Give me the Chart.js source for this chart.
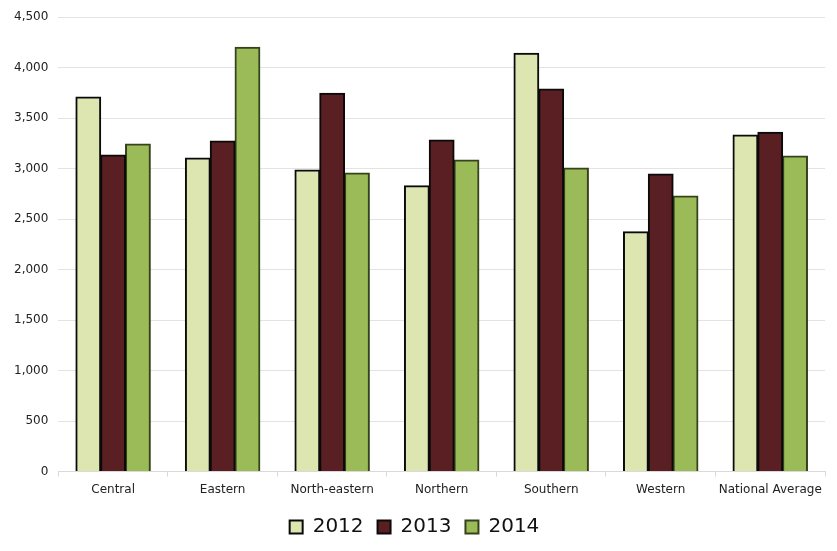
<!DOCTYPE html>
<html>
<head>
<meta charset="utf-8">
<script src="https://cdn.jsdelivr.net/npm/chart.js@4"></script>
<style>
  html, body { margin: 0; padding: 0; background: #fff; }
  #wrap { width: 837px; height: 551px; }
</style>
</head>
<body>
<div id="wrap"><canvas id="chart"></canvas></div>
<script>
const regions = ['Central', 'Eastern', 'North-eastern', 'Northern', 'Southern', 'Western', 'National Average'];
const years = ['2012', '2013', '2014'];
const values2012 = [3710, 3105, 2987, 2830, 4144, 2375, 3333];
const values2013 = [3135, 3274, 3748, 3284, 3788, 2947, 3360];
const values2014 = [3244, 4203, 2957, 3086, 3007, 2730, 3125];
const yTicks = [0, 500, 1000, 1500, 2000, 2500, 3000, 3500, 4000, 4500];

const fills = ['#dde5b1', '#5a1f22', '#9bbb59'];
const borders = ['#0a0a0a', '#0a0a0a', '#36421c'];

Chart.defaults.font.family = 'DejaVu Sans, Verdana, sans-serif';
Chart.defaults.color = '#222';

new Chart(document.getElementById('chart'), {
  type: 'bar',
  data: {
    labels: regions,
    datasets: [values2012, values2013, values2014].map((vals, i) => ({
      label: years[i],
      data: vals,
      backgroundColor: fills[i],
      borderColor: borders[i],
      borderWidth: 2,
      inflateAmount: 0.5,
      categoryPercentage: 0.68,
      barPercentage: 1.0
    }))
  },
  options: {
    responsive: true,
    maintainAspectRatio: false,
    animation: false,
    layout: { padding: { top: 8, right: 12, left: 4, bottom: 4 } },
    plugins: {
      legend: {
        position: 'bottom',
        labels: {
          font: { size: 20 },
          color: '#111',
          boxWidth: 13,
          boxHeight: 13,
          padding: 14
        }
      },
      tooltip: { enabled: false }
    },
    scales: {
      x: {
        grid: { display: true, drawOnChartArea: false, color: '#d9d9d9', tickLength: 5 },
        border: { color: '#d9d9d9' },
        ticks: { font: { size: 12 }, color: '#222', padding: 6 }
      },
      y: {
        min: 0,
        max: 4500,
        afterBuildTicks: axis => { axis.ticks = yTicks.map(v => ({ value: v })); },
        grid: { color: '#e3e3e3', drawTicks: false },
        border: { display: false },
        ticks: {
          font: { size: 12 },
          color: '#222',
          padding: 10,
          callback: v => v.toLocaleString('en-US')
        }
      }
    }
  }
});
</script>
</body>
</html>
